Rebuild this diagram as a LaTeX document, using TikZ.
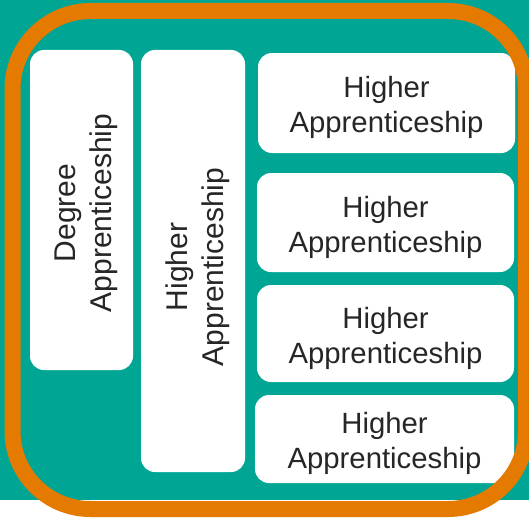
\documentclass[tikz,border=0pt]{standalone}
\usepackage{fontspec}
\setmainfont{Liberation Sans}
\definecolor{teal1}{RGB}{0,166,147}
\definecolor{orange1}{RGB}{229,122,0}
\definecolor{txt}{RGB}{38,38,38}
\tikzset{
  box/.style={fill=white, draw=none, rounded corners=14pt, inner sep=0pt},
  lbl/.style={align=center, text=txt, inner sep=0pt, font=\fontsize{29.3}{35}\selectfont},
  vlbl/.style={lbl, rotate=90, font=\fontsize{30}{36}\selectfont},
}
\begin{document}
\begin{tikzpicture}[x=1pt,y=-1pt]
\useasboundingbox (0,0) rectangle (529,519);
\fill[teal1] (0,0) rectangle (529,500);
\node[box, minimum width=103pt, minimum height=320pt] (deg) at (81.5,210) {};
\node[box, minimum width=104pt, minimum height=422pt] (hv) at (193,261) {};
\node[box, minimum width=257pt, minimum height=100pt] (h1) at (386.5,103) {};
\node[box, minimum width=257pt, minimum height=99pt] (h2) at (385.5,222.5) {};
\node[box, minimum width=257pt, minimum height=97pt] (h3) at (385.5,333.5) {};
\node[box, minimum width=259pt, minimum height=88pt] (h4) at (384.5,439) {};
\node[vlbl] (tdeg) at ([xshift=4.5pt,yshift=-3pt]deg.center) {Degree\\Apprenticeship};
\node[vlbl] (thv) at ([xshift=5pt,yshift=-6pt]hv.center) {Higher\\Apprenticeship};
\node[lbl] (t1) at ([yshift=-4.5pt]h1.center) {Higher\\Apprenticeship};
\node[lbl] (t2) at ([yshift=-4.5pt]h2.center) {Higher\\Apprenticeship};
\node[lbl] (t3) at ([yshift=-4.5pt]h3.center) {Higher\\Apprenticeship};
\node[lbl] (t4) at ([yshift=-4.5pt]h4.center) {Higher\\Apprenticeship};
\draw[orange1, line width=16pt, rounded corners=78pt] (12.5,11) rectangle (526,509);
\end{tikzpicture}
\end{document}
